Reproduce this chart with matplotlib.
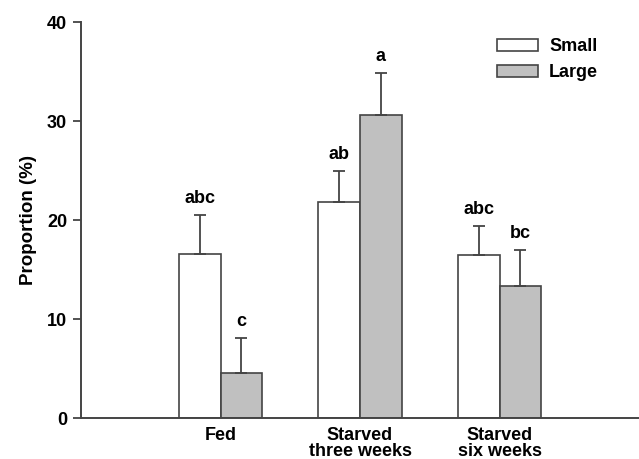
import numpy as np
import matplotlib
matplotlib.use("Agg")
import matplotlib.pyplot as plt

plt.rcParams['font.family'] = ['Liberation Sans', 'DejaVu Sans']
plt.rcParams['font.weight'] = 'bold'

groups = ["Fed", "Starved\nthree weeks", "Starved\nsix weeks"]
small = [16.6, 21.8, 16.5]
small_err = [3.9, 3.2, 2.9]
large = [4.6, 30.6, 13.4]
large_err = [3.5, 4.3, 3.6]
small_letters = ["abc", "ab", "abc"]
large_letters = ["c", "a", "bc"]

edge = "#444444"
fig = plt.figure(figsize=(6.39, 4.59), dpi=100)
ax = fig.add_axes([0.1268, 0.0885, 0.8732, 0.8635])

x = np.arange(1, len(groups) + 1)
w = 0.3
ekw = dict(ecolor=edge, elinewidth=1.3, capsize=4.5, capthick=1.3)
ax.bar(x - w / 2, small, w, yerr=[np.zeros(3), small_err], color="white",
       edgecolor=edge, linewidth=1.2, label="Small", error_kw=ekw)
ax.bar(x + w / 2, large, w, yerr=[np.zeros(3), large_err], color="#c0c0c0",
       edgecolor=edge, linewidth=1.2, label="Large", error_kw=ekw)

for i in range(len(groups)):
    ax.text(x[i] - w / 2, small[i] + small_err[i] + 0.8, small_letters[i],
            ha="center", va="bottom", fontsize=13, fontweight="bold")
    ax.text(x[i] + w / 2, large[i] + large_err[i] + 0.8, large_letters[i],
            ha="center", va="bottom", fontsize=13, fontweight="bold")

ax.set_xlim(0, 4)
ax.set_ylim(0, 40)
ax.set_yticks([0, 10, 20, 30, 40])
ax.set_xticks(x)
ax.set_xticklabels(groups, fontsize=13, fontweight="bold", linespacing=0.95)
ax.tick_params(axis="x", length=0, pad=6)
ax.tick_params(axis="y", labelsize=13, length=6, width=1.3, color=edge, pad=4)
for lab in ax.get_yticklabels():
    lab.set_fontweight("bold")
ax.set_ylabel("Proportion (%)", fontsize=13.5, fontweight="bold", labelpad=7)

for s in ["top", "right"]:
    ax.spines[s].set_visible(False)
for s in ["left", "bottom"]:
    ax.spines[s].set_color(edge)
    ax.spines[s].set_linewidth(1.4)

ax.legend(loc="upper left", bbox_to_anchor=(0.716, 1.0), frameon=False,
          handlelength=2.3, handleheight=0.65, handletextpad=0.6,
          labelspacing=0.5, prop=dict(weight="bold", size=13))

fig.savefig("out.png", dpi=100)
